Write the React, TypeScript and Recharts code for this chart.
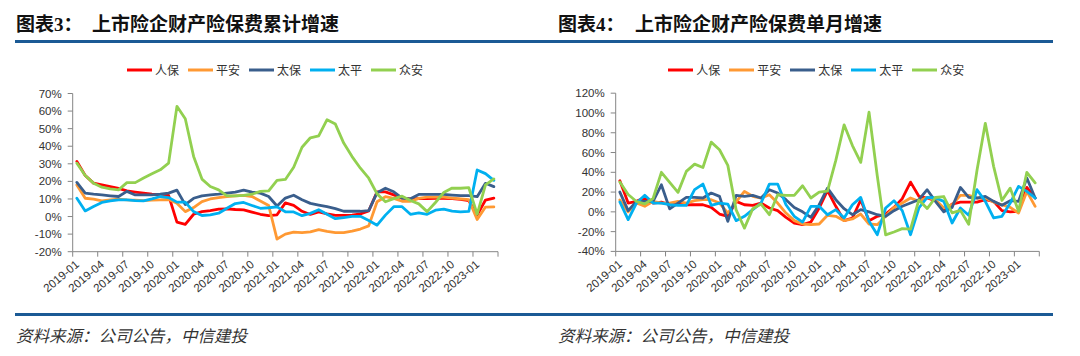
import React from 'react';
import { LineChart, Line, XAxis, YAxis, Legend } from 'recharts';

const months = [
  '2019-01', '2019-02', '2019-03', '2019-04', '2019-05', '2019-06', '2019-07', '2019-08', '2019-09', '2019-10', '2019-11', '2019-12',
  '2020-01', '2020-02', '2020-03', '2020-04', '2020-05', '2020-06', '2020-07', '2020-08', '2020-09', '2020-10', '2020-11', '2020-12',
  '2021-01', '2021-02', '2021-03', '2021-04', '2021-05', '2021-06', '2021-07', '2021-08', '2021-09', '2021-10', '2021-11', '2021-12',
  '2022-01', '2022-02', '2022-03', '2022-04', '2022-05', '2022-06', '2022-07', '2022-08', '2022-09', '2022-10', '2022-11', '2022-12',
  '2023-01', '2023-02', '2023-03',
];

const seriesNames = ['人保', '平安', '太保', '太平', '众安'];
const seriesColors = ['#FF0000', '#FF9933', '#3A5E8C', '#00B0F0', '#92D050'];

// 图表3 累计增速 (%)
const cumRenbao = [31.4, 23.4, 19, 18, 17, 16, 14.6, 13.9, 13.3, 12.7, 12.3, 12, -3.2, -4.4, 1.3, 2.8, 3.4, 4.2, 4.4, 4, 3.8, 2.5, 1.3, 0.5, 1, 7.8, 6.4, 3, 1.2, 2.6, 1.5, 0.7, 0.7, 0.8, 1.5, 3.2, 14, 14, 12.3, 10.5, 10, 10.2, 10.2, 10.3, 10.3, 10.2, 9.8, 9, 0.8, 9.4, 10.5];
const cumPingan = [18, 10.4, 9.9, 8.9, 9.5, 9.9, 9.5, 9.3, 9.1, 9.3, 9.5, 9.7, 7.6, 2.8, 5.1, 8.5, 10, 10.8, 11.4, 11.8, 12, 11.4, 8.9, 6.3, -12.8, -10, -8.9, -9.1, -8.7, -7.4, -8.5, -9.1, -9.1, -8.3, -7.1, -5.3, 8.4, 11.3, 10.3, 8.7, 8.7, 10.3, 11, 11, 11, 10.5, 10.1, 9.6, -1.7, 5.4, 5.5];
const cumTaibao = [19.4, 13.3, 12.7, 12.3, 11.8, 11.4, 14.3, 12.3, 12.3, 12.3, 12.7, 13.3, 15, 6.8, 10.4, 11.8, 12.3, 12.7, 13.3, 13.9, 15, 13.9, 13.3, 11.4, 6, 10.5, 12.1, 9.6, 7.5, 6.5, 5.6, 4.5, 3, 3, 3, 3.4, 13.6, 16.1, 14.1, 10.5, 10.1, 12.6, 12.6, 12.6, 12.6, 12.2, 11.9, 11.9, 11.3, 18.9, 17];
const cumTaiping = [10.4, 3.2, 5.7, 8, 8.9, 9.5, 9.5, 9.1, 8.9, 10, 11.4, 10.8, 8.2, 8.2, 2.8, 0.6, 0.9, 1.9, 4.7, 7.4, 8, 6.3, 4.7, 5, 5.5, 2.7, 2.6, 0.5, 1.8, 3.9, 1.3, -1.2, -0.6, 0.1, 0.1, -2.3, -4.9, 0.8, 5.6, 5.6, 1.3, 2.1, 1.3, 3.6, 4.2, 3.1, 2.6, 2.9, 26.5, 24.4, 20.6];
const cumZhongan = [30.4, 23.4, 19, 16.7, 15.8, 15.2, 19.3, 19.3, 21.9, 24.3, 26.6, 30.4, 62.7, 55.6, 34.2, 21.3, 17.1, 15.2, 11.8, 11.8, 12, 12.7, 14.3, 14.6, 20.6, 21.1, 28, 39.4, 44.8, 45.9, 55.1, 52.6, 41.8, 34.1, 27.5, 21.8, 12.9, 8.4, 10.2, 11.6, 9.1, 7.2, 2.8, 8, 13.7, 16.2, 16.1, 16.4, 1.3, 18, 21.4];

// 图表4 单月增速 (%)
const monRenbao = [31.5, 8.9, 10.6, 14.6, 8.9, 9.9, 7.2, 8.9, 7.2, 7.2, 7.2, 4.5, -2.2, -4.5, 10.6, 7.2, 6.6, 8.9, 3.9, 1.2, -5.6, -11.3, -13, -10.3, 3.9, 21.5, 5.6, -8.9, -6.2, 12, -8.9, -4.5, -2.2, 4.5, 13.3, 30.1, 15.7, 14, 11.3, 1.2, 7.9, 9.9, 9.9, 9.9, 12.3, 10.6, 1.2, 0, 0.5, 24.7, 14];
const monPingan = [12, 0, 8.9, 5.6, 10.6, 8.9, 8.9, 10.6, 8.9, 11.3, 12.3, 12.3, 8.9, -1.2, 10, 20.7, 15.7, 14, 17.3, 8.9, -1.2, -8.9, -12.3, -13, -12.3, -3.5, -4.5, -8.9, -7.2, -2.2, -12.3, -13, -4.5, 4.5, 8.9, 14, 10.6, 14.6, 12.3, 3.9, 7.2, 16.7, 16.7, 14, 14, 9.9, 7.2, 4.5, -1.2, 20.7, 5.6];
const monTaibao = [20, 1.2, 10.6, 10.6, 10.6, 27.4, 3, 8.9, 14.6, 14.6, 14, 19, 15.7, -9.6, 16.7, 15.7, 16.7, 14, 22.4, 19, 12.3, 4.5, 0, -5.6, 7.2, 24, 12.3, 3.2, -2.9, 2.2, 0, -2.9, -4.5, 1.2, 5.6, 8.9, 12.3, 22.4, 10.6, 0, 4.5, 24.7, 14.6, 14, 15.7, 10.6, 6.6, 11.3, 10.6, 34.2, 14];
const monTaiping = [10, -7.9, 8.9, 16.7, 8.9, 8.9, 7.2, 6.6, 6.6, 22.4, 28.1, 6.6, 8.9, 7.9, -8.9, -4.5, 2.2, 8.9, 28.1, 28.1, 7.2, -4.5, -10.3, 5.6, 5.6, -2.9, 2.2, -6.2, 7.2, 14.6, -9.6, -23.1, 3.9, 11.3, 1.2, -23.1, 3.9, 14.6, 14, 10.6, -11.3, 3.9, -3.5, 22.4, 10.6, -6.2, -4.5, 8.9, 25.8, 20.7, 14];
const monZhongan = [30.1, 17.5, 10.5, 8, 13.5, 40, 29.8, 19.7, 40.9, 48.3, 44.9, 70.5, 62.8, 47, 2, -16.5, 3.2, 7.9, -2.9, 17.3, 16.7, 16.7, 26.4, 14, 20, 21, 52, 88, 67, 50, 100.8, 36, -23.3, -20.4, -17, -17.5, 12, 3.3, 14.5, 15.5, -1, 1.5, -12.5, 42, 89.5, 46, 11.5, 24, 0.6, 40, 29.3];

const cumTicks = [-20, -10, 0, 10, 20, 30, 40, 50, 60, 70];
const monTicks = [-40, -20, 0, 20, 40, 60, 80, 100, 120];

const seriesKeys = ['s0', 's1', 's2', 's3', 's4'];

const buildRows = (lists: number[][]) =>
  months.map((m, i) => {
    const row: any = { m };
    lists.forEach((l, j) => {
      row[seriesKeys[j]] = l[i];
    });
    return row;
  });

const cumRows = buildRows([cumRenbao, cumPingan, cumTaibao, cumTaiping, cumZhongan]);
const monRows = buildRows([monRenbao, monPingan, monTaibao, monTaiping, monZhongan]);

const AXIS = '#868686';
const TEXT = '#333333';
const BLUE = '#1B5A95';
const NUMFONT = '"Liberation Sans", Arial, sans-serif';
const CJK = '"Noto Sans CJK SC", sans-serif';

const XTick = (props: any) => {
  const { x, y, payload, bw, n } = props;
  const idx = payload.index;
  const tx = x - bw / 2;
  return (
    <g>
      <line x1={tx} y1={y} x2={tx} y2={y + 5} stroke={AXIS} strokeWidth={1} />
      {idx + 3 >= n ? <line x1={tx + 3 * bw} y1={y} x2={tx + 3 * bw} y2={y + 5} stroke={AXIS} strokeWidth={1} /> : null}
      <text
        x={0}
        y={0}
        transform={`translate(${x + 3},${y + 14}) rotate(-40)`}
        textAnchor="end"
        fontSize={11.5}
        fill={TEXT}
        fontFamily={NUMFONT}
      >
        {payload.value}
      </text>
    </g>
  );
};

const renderLegend = (props: any) => {
  const payload = [...(props.payload || [])].sort(
    (a: any, b: any) => seriesNames.indexOf(a.value) - seriesNames.indexOf(b.value)
  );
  return (
    <div style={{ display: 'flex', alignItems: 'center', height: 14 }}>
      {payload.map((e: any) => (
        <div key={e.value} style={{ display: 'flex', alignItems: 'center', marginRight: 9 }}>
          <svg width={25} height={6} style={{ display: 'block' }}>
            <line x1={0} y1={3} x2={25} y2={3} stroke={e.color} strokeWidth={3} />
          </svg>
          <span style={{ marginLeft: 3, fontSize: 12, color: TEXT, fontFamily: CJK, lineHeight: '14px', whiteSpace: 'nowrap' }}>
            {e.value}
          </span>
        </div>
      ))}
    </div>
  );
};

type PanelProps = {
  left: number;
  rows: any[];
  ticks: number[];
  plotLeft: number;
  plotRight: number;
  plotTop: number;
  plotBottom: number;
  legendLeft: number;
};

const Panel = ({ left, rows, ticks, plotLeft, plotRight, plotTop, plotBottom, legendLeft }: PanelProps) => {
  const W = 540;
  const H = 300;
  const yW = 60;
  const xH = 40;
  const bw = (plotRight - plotLeft) / rows.length;
  const margin = { top: plotTop, right: W - plotRight, left: plotLeft - yW, bottom: H - plotBottom - xH };
  return (
    <div style={{ position: 'absolute', left, top: 0, width: W, height: H }}>
      <LineChart width={W} height={H} data={rows} margin={margin}>
        <XAxis
          dataKey="m"
          interval={2}
          padding={{ left: bw / 2, right: bw / 2 }}
          tickLine={false}
          tickSize={0}
          tickMargin={0}
          height={xH}
          axisLine={{ stroke: AXIS, strokeWidth: 1 }}
          tick={<XTick bw={bw} n={rows.length} />}
        />
        <YAxis
          width={yW}
          type="number"
          domain={[ticks[0], ticks[ticks.length - 1]]}
          ticks={ticks}
          interval={0}
          allowDataOverflow
          tickFormatter={(v: number) => `${v}%`}
          tickSize={5}
          tickMargin={6}
          axisLine={{ stroke: AXIS, strokeWidth: 1 }}
          tickLine={{ stroke: AXIS, strokeWidth: 1 }}
          tick={{ fill: TEXT, fontSize: 11.5, fontFamily: NUMFONT }}
        />
        <Legend
          layout="horizontal"
          verticalAlign="middle"
          align="center"
          itemSorter={null as any}
          content={renderLegend}
          wrapperStyle={{ top: 63, left: legendLeft, width: 340, height: 14 }}
        />
        {seriesKeys.map((k, j) => (
          <Line
            key={k}
            type="linear"
            dataKey={k}
            name={seriesNames[j]}
            stroke={seriesColors[j]}
            strokeWidth={2.8}
            strokeLinejoin="round"
            strokeLinecap="round"
            dot={false}
            activeDot={false}
            isAnimationActive={false}
          />
        ))}
      </LineChart>
    </div>
  );
};

const titleStyle: React.CSSProperties = {
  position: 'absolute',
  top: 15,
  fontSize: 19,
  lineHeight: '20px',
  fontWeight: 'bold',
  color: '#111',
  fontFamily: '"Liberation Serif", "Noto Sans CJK SC", serif',
  whiteSpace: 'nowrap',
};

const sourceStyle: React.CSSProperties = {
  position: 'absolute',
  top: 326,
  fontSize: 16.5,
  lineHeight: '18px',
  fontStyle: 'italic',
  color: '#333',
  fontFamily: CJK,
  whiteSpace: 'nowrap',
};

export default function App() {
  return (
    <div style={{ position: 'absolute', left: 0, top: 0, width: 1080, height: 356, background: '#fff', overflow: 'hidden' }}>
      <div style={{ ...titleStyle, left: 16 }}>图表3：</div>
      <div style={{ ...titleStyle, left: 92 }}>上市险企财产险保费累计增速</div>
      <div style={{ ...titleStyle, left: 558 }}>图表4：</div>
      <div style={{ ...titleStyle, left: 635 }}>上市险企财产险保费单月增速</div>
      <div style={{ position: 'absolute', left: 15, top: 40, width: 1038, height: 3, background: BLUE }} />

      <Panel left={0} rows={cumRows} ticks={cumTicks} plotLeft={72.7} plotRight={498} plotTop={93.5} plotBottom={251.7} legendLeft={127} />
      <Panel left={540} rows={monRows} ticks={monTicks} plotLeft={75.7} plotRight={499.3} plotTop={93.2} plotBottom={251.4} legendLeft={128.3} />

      <div style={{ position: 'absolute', left: 15, top: 313, width: 1038, height: 3, background: BLUE }} />
      <div style={{ ...sourceStyle, left: 16 }}>资料来源：公司公告，中信建投</div>
      <div style={{ ...sourceStyle, left: 558 }}>资料来源：公司公告，中信建投</div>
    </div>
  );
}
